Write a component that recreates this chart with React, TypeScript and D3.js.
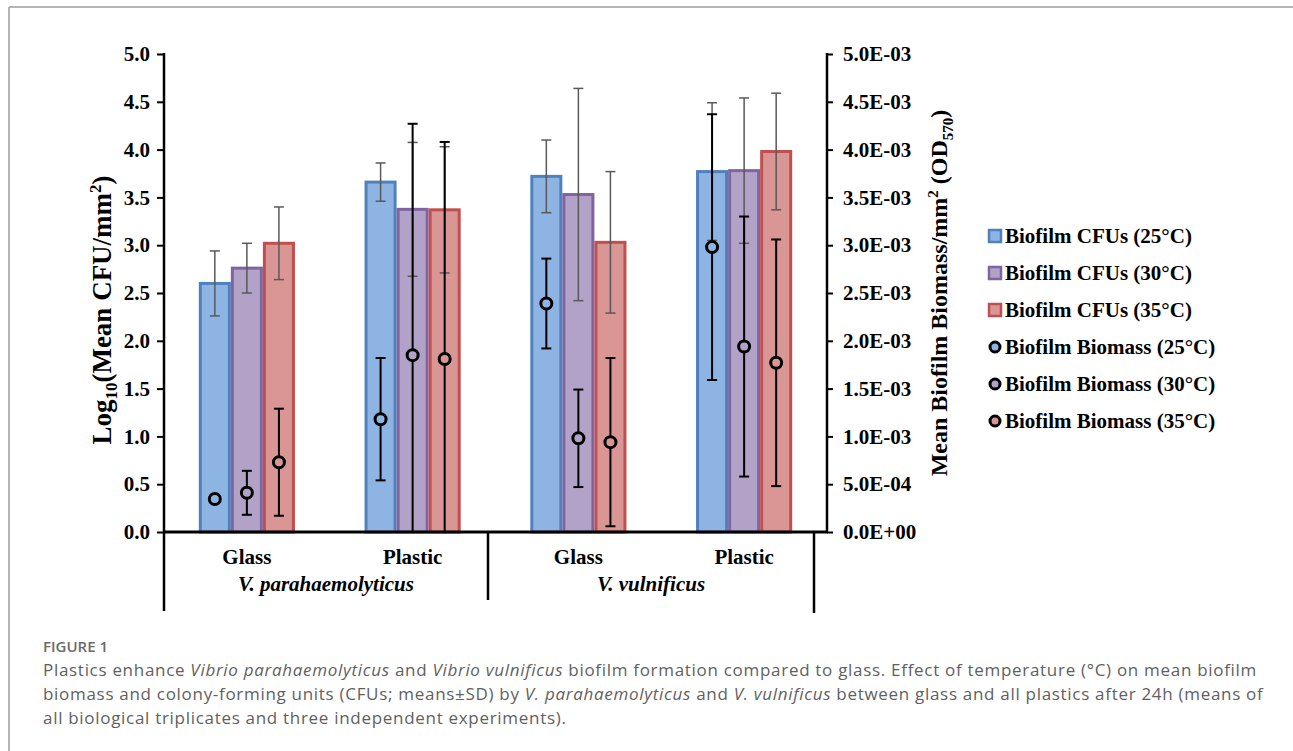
import * as d3 from "d3";
import { useEffect, useRef } from "react";

const categories = ["Glass", "Plastic", "Glass", "Plastic"];
const species = ["V. parahaemolyticus", "V. vulnificus"];
const temps = ["25°C", "30°C", "35°C"];

// Log10 CFU/mm2 (left axis)
const cfu25 = [2.6, 3.66, 3.72, 3.77];
const cfu25Sd = [0.34, 0.2, 0.38, 0.72];
const cfu30 = [2.76, 3.375, 3.53, 3.78];
const cfu30Sd = [0.26, 0.7, 1.11, 0.76];
const cfu35 = [3.02, 3.37, 3.03, 3.98];
const cfu35Sd = [0.38, 0.66, 0.74, 0.61];

// biomass OD570/mm2 (right axis)
const biomass25 = [0.000345, 0.00118, 0.00239, 0.00298];
const biomass25Sd = [0.00003, 0.00064, 0.00047, 0.00139];
const biomass30 = [0.00041, 0.00185, 0.00098, 0.00194];
const biomass30Sd = [0.00023, 0.00242, 0.00051, 0.00136];
const biomass35 = [0.00073, 0.00181, 0.00094, 0.00177];
const biomass35Sd = [0.00056, 0.00227, 0.00088, 0.00129];

const fills = ["#8eb4e3", "#b3a2c7", "#d99694"];
const strokes = ["#4f81bd", "#8064a2", "#c0504d"];

const width = 1293;
const height = 751;
const left = 164;
const right = 827;
const top = 54;
const bottom = 532;
const serif = "'Liberation Serif', 'Times New Roman', serif";

const cfu = [cfu25, cfu30, cfu35];
const cfuSd = [cfu25Sd, cfu30Sd, cfu35Sd];
const bio = [biomass25, biomass30, biomass35];
const bioSd = [biomass25Sd, biomass30Sd, biomass35Sd];

const sciFormat = (v: number) => {
  const [m, e] = v.toExponential(1).split("e");
  const sign = e[0] === "-" ? "-" : "+";
  return `${m}E${sign}${e.replace(/[-+]/, "").padStart(2, "0")}`;
};

const App = () => {
  const gy = useRef<SVGGElement>(null);
  const gy2 = useRef<SVGGElement>(null);

  const x = d3
    .scaleBand<number>()
    .domain(d3.range(categories.length))
    .range([left, right])
    .paddingInner(0.42)
    .paddingOuter(0.21);
  const x1 = d3.scaleBand<number>().domain([0, 1, 2]).range([0, x.bandwidth()]);

  const y = d3.scaleLinear().domain([0, 5]).range([bottom, top]);
  const y2 = d3.scaleLinear().domain([0, 0.005]).range([bottom, top]);

  useEffect(() => {
    const g = d3
      .select(gy.current as SVGGElement)
      .call(d3.axisLeft(y).ticks(10).tickFormat(d3.format(".1f")).tickSize(7).tickPadding(7));
    g.select(".domain").remove();
    g.selectAll("line").attr("stroke", "#000").attr("stroke-width", 2);
    g.selectAll("text")
      .attr("font-family", serif)
      .attr("font-size", 21)
      .attr("font-weight", "bold")
      .attr("fill", "#000");
  }, [y]);

  useEffect(() => {
    const g = d3
      .select(gy2.current as SVGGElement)
      .call(
        d3
          .axisRight(y2)
          .ticks(10)
          .tickFormat((v) => sciFormat(v as number))
          .tickSize(6)
          .tickPadding(10)
      );
    g.select(".domain").remove();
    g.selectAll("line").attr("stroke", "#000").attr("stroke-width", 2);
    g.selectAll("text")
      .attr("font-family", serif)
      .attr("font-size", 21)
      .attr("font-weight", "bold")
      .attr("fill", "#000");
  }, [y2]);

  const cap = 5;

  return (
    <svg
      width={width}
      height={height}
      viewBox={`0 0 ${width} ${height}`}
      style={{ position: "absolute", left: 0, top: 0, background: "#fff" }}
    >
      {/* page frame */}
      <line x1={9} x2={width} y1={7} y2={7} stroke="#b5b5b5" strokeWidth={2} />
      <line x1={9} x2={9} y1={7} y2={height} stroke="#b5b5b5" strokeWidth={2} />

      {/* bars */}
      {categories.map((_, i) =>
        temps.map((_, s) => (
          <rect
            key={`b${i}-${s}`}
            x={(x(i) ?? 0) + (x1(s) ?? 0) + 1.5}
            y={y(cfu[s][i])}
            width={x1.bandwidth() - 3}
            height={y(0) - y(cfu[s][i])}
            fill={fills[s]}
            stroke={strokes[s]}
            strokeWidth={3}
          />
        ))
      )}

      {/* CFU error bars */}
      <g stroke="#595959" strokeWidth={1.5}>
        {categories.map((_, i) =>
          temps.map((_, s) => {
            const cx = (x(i) ?? 0) + (x1(s) ?? 0) + x1.bandwidth() / 2;
            const hi = y(cfu[s][i] + cfuSd[s][i]);
            const lo = y(Math.max(0, cfu[s][i] - cfuSd[s][i]));
            return (
              <g key={`e${i}-${s}`}>
                <line x1={cx} x2={cx} y1={hi} y2={lo} />
                <line x1={cx - cap} x2={cx + cap} y1={hi} y2={hi} />
                <line x1={cx - cap} x2={cx + cap} y1={lo} y2={lo} />
              </g>
            );
          })
        )}
      </g>

      {/* biomass error bars */}
      <g stroke="#000" strokeWidth={2}>
        {categories.map((_, i) =>
          temps.map((_, s) => {
            const cx = (x(i) ?? 0) + (x1(s) ?? 0) + x1.bandwidth() / 2;
            const hi = y2(bio[s][i] + bioSd[s][i]);
            const low = bio[s][i] - bioSd[s][i];
            const lo = y2(Math.max(0, low));
            return (
              <g key={`m${i}-${s}`}>
                <line x1={cx} x2={cx} y1={hi} y2={lo} />
                <line x1={cx - cap} x2={cx + cap} y1={hi} y2={hi} />
                {low > 0 && <line x1={cx - cap} x2={cx + cap} y1={lo} y2={lo} />}
              </g>
            );
          })
        )}
      </g>

      {/* biomass points */}
      {categories.map((_, i) =>
        temps.map((_, s) => (
          <circle
            key={`p${i}-${s}`}
            cx={(x(i) ?? 0) + (x1(s) ?? 0) + x1.bandwidth() / 2}
            cy={y2(bio[s][i])}
            r={5.5}
            fill={fills[s]}
            stroke="#000"
            strokeWidth={3}
          />
        ))
      )}

      {/* axes */}
      <g ref={gy} transform={`translate(${left},0)`} />
      <g ref={gy2} transform={`translate(${right},0)`} />
      <line x1={left} x2={left} y1={top - 1} y2={611} stroke="#000" strokeWidth={2.5} />
      <line x1={right} x2={right} y1={top - 1} y2={bottom} stroke="#000" strokeWidth={2.5} />
      <line x1={left} x2={right + 1} y1={bottom} y2={bottom} stroke="#000" strokeWidth={3} />
      <line x1={488} x2={488} y1={bottom} y2={600} stroke="#000" strokeWidth={2.5} />
      <line x1={814} x2={814} y1={bottom} y2={613} stroke="#000" strokeWidth={2.5} />

      {/* category labels */}
      <g fontFamily={serif} fontSize={21} fontWeight="bold" textAnchor="middle">
        {categories.map((c, i) => (
          <text key={`c${i}`} x={(x(i) ?? 0) + x.bandwidth() / 2} y={564}>
            {c}
          </text>
        ))}
        <text x={326} y={591} fontStyle="italic">
          {species[0]}
        </text>
        <text x={651} y={591} fontStyle="italic">
          {species[1]}
        </text>
      </g>

      {/* axis titles */}
      <text
        transform={`translate(111,310) rotate(-90)`}
        textAnchor="middle"
        fontFamily={serif}
        fontSize={27}
        fontWeight="bold"
      >
        Log<tspan fontSize={17} dy={6}>10</tspan>
        <tspan dy={-6}>(Mean CFU/mm</tspan>
        <tspan fontSize={17} dy={-10}>2</tspan>
        <tspan dy={10}>)</tspan>
      </text>
      <text
        transform={`translate(947,${(top + bottom) / 2}) rotate(-90)`}
        textAnchor="middle"
        fontFamily={serif}
        fontSize={24}
        fontWeight="bold"
      >
        Mean Biofilm Biomass/mm<tspan fontSize={15} dy={-9}>2</tspan>
        <tspan dy={9}> (OD</tspan>
        <tspan fontSize={15} dy={6}>570</tspan>
        <tspan dy={-6}>)</tspan>
      </text>

      {/* legend */}
      <g fontFamily={serif} fontSize={21} fontWeight="bold">
        {temps.map((t, s) => (
          <g key={`l${s}`} transform={`translate(988,${236 + s * 37})`}>
            <rect x={1} y={-6} width={12} height={12} fill={fills[s]} stroke={strokes[s]} strokeWidth={2.5} />
            <text x={17} y={7}>
              {`Biofilm CFUs (${t})`}
            </text>
          </g>
        ))}
        {temps.map((t, s) => (
          <g key={`k${s}`} transform={`translate(988,${347 + s * 37})`}>
            <circle cx={7} cy={0} r={5} fill={fills[s]} stroke="#000" strokeWidth={3} />
            <text x={17} y={7}>
              {`Biofilm Biomass (${t})`}
            </text>
          </g>
        ))}
      </g>

      {/* caption */}
      <g fontFamily="'Open Sans', sans-serif" fill="#5f5f5f">
        <text x={43} y={652} fontSize={15} fontWeight={600} fill="#6b6b6b">
          FIGURE 1
        </text>
        <g fontSize={17} letterSpacing={0.7}>
          <text x={43} y={676}>
            Plastics enhance <tspan fontStyle="italic">Vibrio parahaemolyticus</tspan> and{" "}
            <tspan fontStyle="italic">Vibrio vulnificus</tspan> biofilm formation compared to glass. Effect
            of temperature (°C) on mean biofilm
          </text>
          <text x={43} y={700}>
            biomass and colony-forming units (CFUs; means±SD) by{" "}
            <tspan fontStyle="italic">V. parahaemolyticus</tspan> and{" "}
            <tspan fontStyle="italic">V. vulnificus</tspan> between glass and all plastics after 24h (means of
          </text>
          <text x={43} y={724}>
            all biological triplicates and three independent experiments).
          </text>
        </g>
      </g>
    </svg>
  );
};

export default App;
